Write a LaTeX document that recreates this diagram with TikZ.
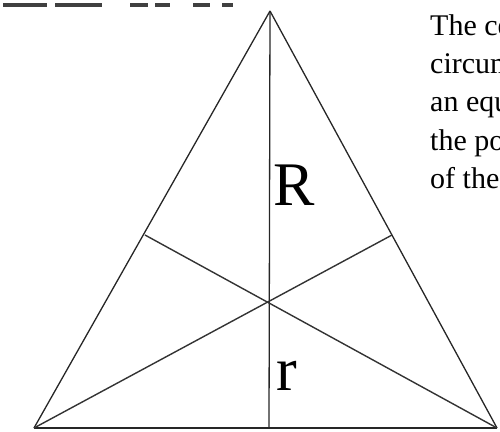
\documentclass[tikz,border=0pt]{standalone}
\usepackage{fontspec}
\setmainfont{Liberation Serif}
\begin{document}
\begin{tikzpicture}[x=1pt,y=-1pt,
  edge/.style={line width=1.3pt, draw=black!85},
  median/.style={line width=1.4pt, draw=black!80},
  bigletter/.style={inner sep=0pt, anchor=base west, font=\fontsize{62}{62}\selectfont},
  sidetext/.style={inner sep=0pt, anchor=base west, font=\fontsize{30}{36}\selectfont},
  frag/.style={fill=black!75, draw=none}]
\useasboundingbox (0,0) rectangle (500,431);
\clip (0,0) rectangle (500,431);
% cut-off text fragments at the top
\fill[frag] (3,3) rectangle (47,7);
\fill[frag] (55,3) rectangle (102,7);
\fill[frag] (130,3) rectangle (148,7);
\fill[frag] (155,3) rectangle (170,7);
\fill[frag] (193,3) rectangle (210,7);
\fill[frag] (222,3) rectangle (233,7);
% vertices
\coordinate (A) at (270,11);
\coordinate (B) at (34,428);
\coordinate (C) at (497,428);
\coordinate (D) at (269,428);
\coordinate (E) at (145,235);
\coordinate (F) at (392,235);
% triangle
\draw[edge] (A) -- (B);
\draw[edge] (A) -- (C);
\draw[edge] (B) -- (C);
\draw[edge] (A) -- (D);
% medians
\draw[median] (B) -- (F);
\draw[median] (C) -- (E);
% labels
\node[bigletter] (R) at (273,205) {R};
\node[bigletter] (r) at (276,390) {r};
% side text (cut off at the right edge, as in the reference)
\node[sidetext] (t1) at (430,35) {The ce};
\node[sidetext] (t2) at (430,73) {circum};
\node[sidetext] (t3) at (430,111) {an equ};
\node[sidetext] (t4) at (430,150) {the poi};
\node[sidetext] (t5) at (430,188) {of the};
\end{tikzpicture}
\end{document}
